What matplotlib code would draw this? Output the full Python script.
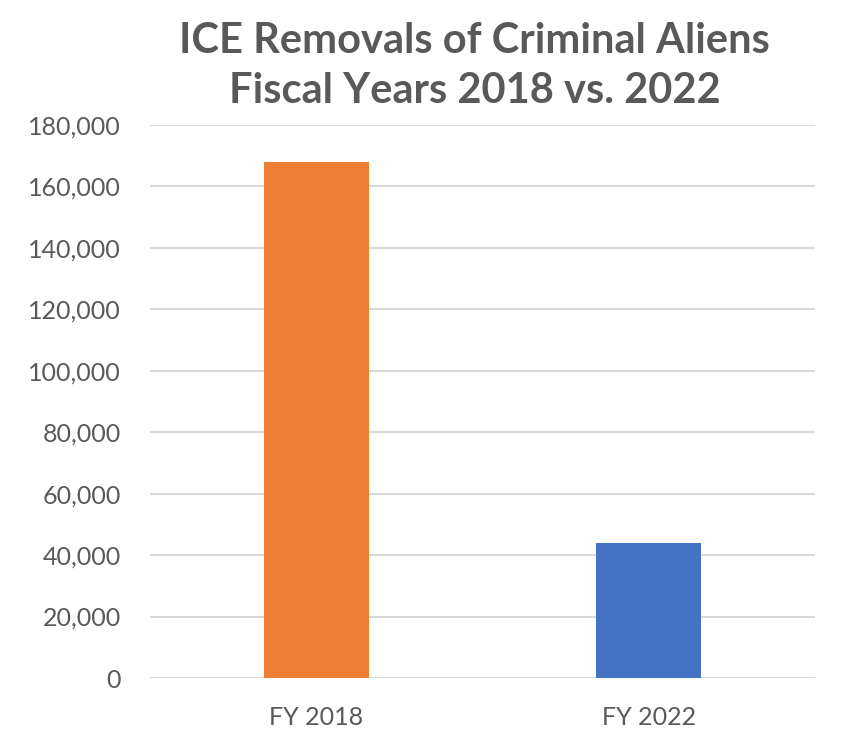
import matplotlib
matplotlib.use("Agg")
import matplotlib.pyplot as plt
from matplotlib.ticker import FuncFormatter

# data
categories = ["FY 2018", "FY 2022"]
removals = [168000, 44000]
bar_colors = ["#ED7D31", "#4472C4"]
yticks = [0, 20000, 40000, 60000, 80000, 100000, 120000, 140000, 160000, 180000]

plt.rcParams['font.family'] = ['Lato', 'DejaVu Sans']

fig = plt.figure(figsize=(8.48, 7.53), dpi=100)
ax = fig.add_axes([0.177, 0.0996, 0.784, 0.7344])

ax.bar(range(len(categories)), removals, width=0.315, color=bar_colors, zorder=3)

ax.set_xlim(-0.5, 1.5)
ax.set_ylim(0, 180000)
ax.set_yticks(yticks)
ax.yaxis.set_major_formatter(FuncFormatter(lambda v, p: "{:,.0f}".format(v)))
ax.set_xticks(range(len(categories)))
ax.set_xticklabels(categories)

ax.grid(axis="y", color="#d9d9d9", linewidth=1.5, zorder=0)
for s in ax.spines.values():
    s.set_visible(False)
ax.tick_params(axis="both", length=0, labelsize=18, labelcolor="#595959")
ax.tick_params(axis="y", pad=21)
ax.tick_params(axis="x", pad=20)

fig.text(0.560, 0.912, "ICE Removals of Criminal Aliens\nFiscal Years 2018 vs. 2022",
         ha="center", va="center", fontsize=30, fontweight="bold", color="#595959",
         linespacing=1.38)

fig.savefig("out.png", dpi=100)
